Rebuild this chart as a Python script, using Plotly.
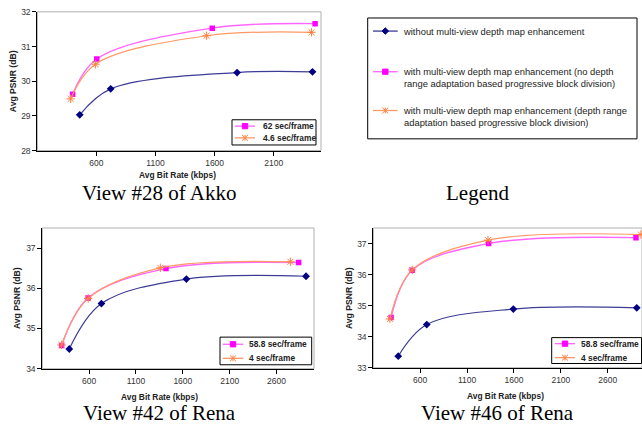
import plotly.graph_objects as go

W, H = 642, 432

# ---------------- data ----------------
akko_without_x = [459, 721, 1790, 2428]
akko_without_y = [29.03, 29.78, 30.25, 30.27]
akko_nodra_x = [399, 603, 1580, 2450]
akko_nodra_y = [29.62, 30.64, 31.53, 31.66]
akko_dra_x = [382, 592, 1532, 2420]
akko_dra_y = [29.49, 30.49, 31.31, 31.41]

rena42_without_x = [388, 731, 1638, 2915]
rena42_without_y = [34.49, 35.62, 36.23, 36.30]
rena42_nodra_x = [307, 589, 1420, 2836]
rena42_nodra_y = [34.58, 35.76, 36.49, 36.64]
rena42_dra_x = [305, 590, 1360, 2748]
rena42_dra_y = [34.59, 35.75, 36.51, 36.66]

rena46_without_x = [366, 670, 1593, 2909]
rena46_without_y = [33.37, 34.39, 34.89, 34.93]
rena46_nodra_x = [290, 515, 1330, 2901]
rena46_nodra_y = [34.62, 36.14, 37.00, 37.19]
rena46_dra_x = [277, 515, 1323, 2953]
rena46_dra_y = [34.57, 36.15, 37.11, 37.29]

akko_xticks = [600, 1100, 1600, 2100]
rena_xticks = [600, 1100, 1600, 2100, 2600]

series_names = [
    "without multi-view depth map enhancement",
    "with multi-view depth map enhancement (no depth<br>range adaptation based progressive block division)",
    "with multi-view depth map enhancement (depth range<br>adaptation based progressive block division)",
]
akko_time_labels = ["62 sec/frame", "4.6 sec/frame"]
rena_time_labels = ["58.8 sec/frame", "4 sec/frame"]
captions = ["View #28 of Akko", "Legend", "View #42 of Rena", "View #46 of Rena"]

# ---------------- styles ----------------
NAVY = "#000080"
NAVY_LINE = "#3c3c96"
MAG = "#ff00ff"
MAG_LINE = "#ff66ff"
ORA = "#ff8040"
ORA_LINE = "#ff9966"
SANS = "Liberation Sans"
SERIF = "Liberation Serif"


def px(x):
    return x / W


def py(y):
    return 1 - y / H


fig = go.Figure()

panels = [
    dict(xs="x", ys="y", data=[(akko_without_x, akko_without_y), (akko_nodra_x, akko_nodra_y), (akko_dra_x, akko_dra_y)]),
    dict(xs="x2", ys="y2", data=[(rena42_without_x, rena42_without_y), (rena42_nodra_x, rena42_nodra_y), (rena42_dra_x, rena42_dra_y)]),
    dict(xs="x3", ys="y3", data=[(rena46_without_x, rena46_without_y), (rena46_nodra_x, rena46_nodra_y), (rena46_dra_x, rena46_dra_y)]),
]
styles = [
    dict(line=dict(color=NAVY_LINE, width=1.2, shape="spline"), marker=dict(symbol="diamond", size=6, color=NAVY)),
    dict(line=dict(color=MAG_LINE, width=1.4, shape="spline"), marker=dict(symbol="square", size=5.5, color=MAG)),
    dict(line=dict(color=ORA_LINE, width=1.2, shape="spline"), marker=dict(symbol="asterisk-open", size=7, color=ORA, line=dict(color=ORA, width=1))),
]
for p in panels:
    for (xv, yv), st, nm in zip(p["data"], styles, series_names):
        fig.add_trace(go.Scatter(x=xv, y=yv, mode="lines+markers", name=nm.replace("<br>", " "),
                                 xaxis=p["xs"], yaxis=p["ys"], showlegend=False, **st))

axis_common = dict(showline=True, linecolor="#000", linewidth=1, ticks="outside", ticklen=4,
                   tickcolor="#000", showgrid=False, zeroline=False,
                   tickfont=dict(family=SANS, size=8.5, color="#333"))

fig.update_layout(
    width=W, height=H, margin=dict(l=0, r=0, t=0, b=0),
    paper_bgcolor="white", plot_bgcolor="white", showlegend=False,
    xaxis=dict(domain=[px(37.3), px(321)], range=[100, 2500], tickvals=akko_xticks, anchor="y", **axis_common),
    yaxis=dict(domain=[py(149), py(7)], range=[28, 32], dtick=1, anchor="x", **axis_common),
    xaxis2=dict(domain=[px(42.3), px(314)], range=[100, 3000], tickvals=rena_xticks, anchor="y2", **axis_common),
    yaxis2=dict(domain=[py(372.3), py(228.3)], range=[34, 37.5], tickvals=[34, 35, 36, 37], anchor="x2", **axis_common),
    xaxis3=dict(domain=[px(373.3), 1.0], range=[100, 2965], tickvals=rena_xticks, anchor="y3", **axis_common),
    yaxis3=dict(domain=[py(371.3), py(228.3)], range=[33, 37.5], tickvals=[33, 34, 35, 36, 37], anchor="x3", **axis_common),
)

shapes = []
# light grey plot frames
for xr, yr in [("x domain", "y domain"), ("x2 domain", "y2 domain"), ("x3 domain", "y3 domain")]:
    shapes.append(dict(type="rect", xref=xr, yref=yr, x0=0, x1=1, y0=0, y1=1,
                       line=dict(color="#b0b0b0", width=1), layer="below"))


def rect_px(x0, y0, x1, y1, color="#000", width=1, fill=None):
    d = dict(type="rect", xref="paper", yref="paper", x0=px(x0), x1=px(x1), y0=py(y1), y1=py(y0),
             line=dict(color=color, width=width))
    if fill:
        d["fillcolor"] = fill
    return d


def line_px(x0, y0, x1, y1, color, width=1.2):
    return dict(type="line", xref="paper", yref="paper", x0=px(x0), x1=px(x1), y0=py(y0), y1=py(y1),
                line=dict(color=color, width=width))


def path_px(pts_list, color, fill=None, closed=True, width=1):
    s = ""
    for pts in pts_list:
        s += "M" + " L".join(f"{px(a):.5f},{py(b):.5f}" for a, b in pts)
        if closed:
            s += " Z "
        else:
            s += " "
    d = dict(type="path", xref="paper", yref="paper", path=s, line=dict(color=color, width=width))
    if fill:
        d["fillcolor"] = fill
    return d


def marker_px(kind, cx, cy):
    if kind == 0:
        r = 3.3
        return path_px([[(cx, cy - r), (cx + r, cy), (cx, cy + r), (cx - r, cy)]], NAVY, fill=NAVY)
    if kind == 1:
        r = 2.7
        return path_px([[(cx - r, cy - r), (cx + r, cy - r), (cx + r, cy + r), (cx - r, cy + r)]], MAG, fill=MAG)
    r = 3
    return path_px([[(cx - r, cy - r), (cx + r, cy + r)], [(cx + r, cy - r), (cx - r, cy + r)],
                    [(cx, cy - r), (cx, cy + r)]], ORA, closed=False)


line_cols = [NAVY_LINE, MAG_LINE, ORA_LINE]
annotations = []

# ---- big legend ----
shapes.append(rect_px(367.7, 13.3, 637, 137))
for k, yc in enumerate([26.7, 68.3, 108]):
    shapes.append(line_px(373, yc, 397.7, yc, line_cols[k], 1.3))
    shapes.append(marker_px(k, 385.3, yc))
    annotations.append(dict(xref="paper", yref="paper", x=px(400.7), y=py(yc - 7.5), xanchor="left", yanchor="top",
                            text=series_names[k], showarrow=False, align="left",
                            font=dict(family=SANS, size=9.4, color="#222")))

# ---- inner legends ----
inner = [
    dict(box=(232, 117.5, 316, 143.3), ys=(124, 136), line=(235, 255), tx=260.7, labels=akko_time_labels),
    dict(box=(220, 340, 311.7, 368.3), ys=(347.3, 361.7), line=(222.7, 243.3), tx=246.7, labels=rena_time_labels),
    dict(box=(551.7, 340.5, 641.5, 367), ys=(346.7, 361), line=(555, 575), tx=579, labels=rena_time_labels),
]
for lg in inner:
    x0, y0, x1, y1 = lg["box"]
    shapes.append(rect_px(x0, y0, x1, y1, fill="white"))
    for j, (yc, lab) in enumerate(zip(lg["ys"], lg["labels"])):
        k = j + 1
        shapes.append(line_px(lg["line"][0], yc, lg["line"][1], yc, line_cols[k], 1.3))
        shapes.append(marker_px(k, (lg["line"][0] + lg["line"][1]) / 2, yc))
        annotations.append(dict(xref="paper", yref="paper", x=px(lg["tx"]), y=py(yc), xanchor="left", yanchor="middle",
                                text=f"<b>{lab}</b>", showarrow=False,
                                font=dict(family=SANS, size=8.4, color="#222")))

# ---- axis titles ----
for (xc, yc) in [(178, 174), (159, 401), (505, 400)]:
    annotations.append(dict(xref="paper", yref="paper", x=px(xc), y=py(yc), xanchor="center", yanchor="middle",
                            text="<b>Avg Bit Rate (kbps)</b>", showarrow=False,
                            font=dict(family=SANS, size=8.4, color="#222")))
for (xc, yc) in [(13, 78), (17, 300), (349, 300)]:
    annotations.append(dict(xref="paper", yref="paper", x=px(xc), y=py(yc), xanchor="center", yanchor="middle",
                            text="<b>Avg PSNR (dB)</b>", showarrow=False, textangle=-90,
                            font=dict(family=SANS, size=8.6, color="#222")))

# ---- captions ----
for txt, (xc, yc) in zip(captions, [(159, 192), (477, 192), (159, 418), (497, 418)]):
    annotations.append(dict(xref="paper", yref="paper", x=px(xc), y=py(yc), xanchor="center", yanchor="middle",
                            text=txt, showarrow=False, font=dict(family=SERIF, size=21, color="#000")))

fig.update_layout(shapes=shapes, annotations=annotations)
fig.write_html("out.html", config={"displayModeBar": False},
               post_script="document.body.style.margin='0';document.body.style.overflow='hidden';")
